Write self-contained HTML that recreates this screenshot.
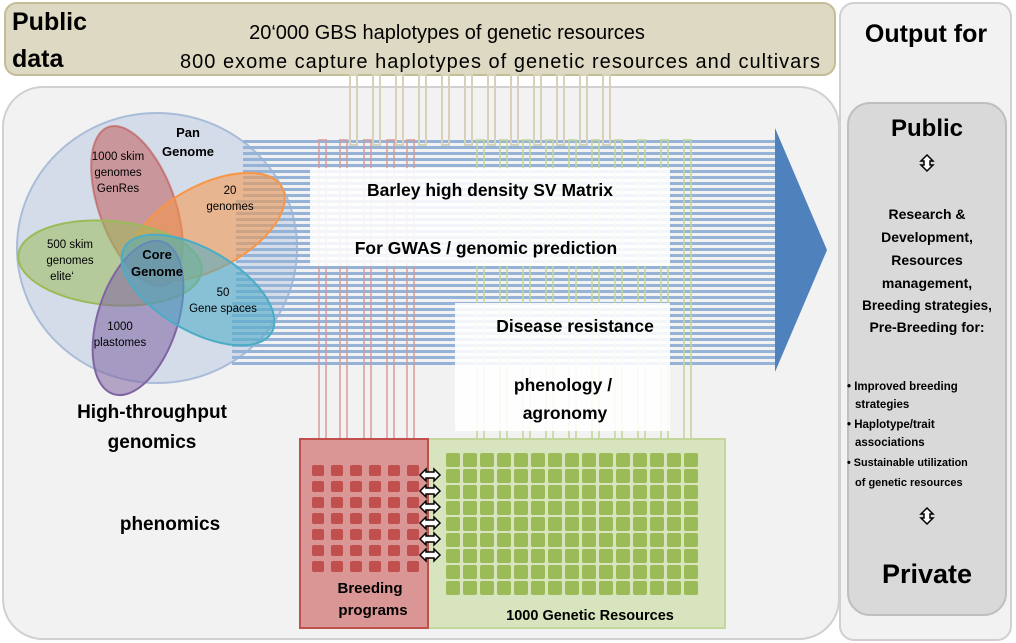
<!DOCTYPE html>
<html><head><meta charset="utf-8"><style>
body{margin:0;background:#fff}
svg{display:block;font-family:"Liberation Sans",sans-serif}
</style></head><body>
<svg id="s" width="1016" height="643" viewBox="0 0 1016 643">
<rect x="0" y="0" width="1016" height="643" fill="#fff"/>
<rect x="3" y="87" width="836" height="552" rx="40" fill="#f2f2f2" stroke="#d0d0d0" stroke-width="2"/>
<rect x="840" y="3" width="171" height="637" rx="14" fill="#f2f2f2" stroke="#d0d0d0" stroke-width="2"/>
<text x="926" y="42" text-anchor="middle" font-size="25" font-weight="bold">Output for</text>
<rect x="848" y="103" width="158" height="512" rx="22" fill="#d9d9d9" stroke="#bfbfbf" stroke-width="2"/>
<text x="927" y="136" text-anchor="middle" font-size="24" font-weight="bold">Public</text>
<text x="927" y="583" text-anchor="middle" font-size="27" font-weight="bold">Private</text>
<g font-size="14" font-weight="bold" text-anchor="middle">
<text x="927" y="219">Research &amp;</text>
<text x="927" y="242">Development,</text>
<text x="927" y="265">Resources</text>
<text x="927" y="288">management,</text>
<text x="927" y="310" font-size="13.5">Breeding strategies,</text>
<text x="927" y="332">Pre-Breeding for:</text>
</g>
<g font-size="11.5" font-weight="bold">
<text x="847" y="390">• Improved breeding</text>
<text x="855" y="408">strategies</text>
<text x="847" y="428">• Haplotype/trait</text>
<text x="855" y="446">associations</text>
<text x="847" y="466" font-size="10.8">• Sustainable utilization</text>
<text x="855" y="486" font-size="11">of genetic resources</text>
</g>
<g fill="#fff" stroke="#000" stroke-width="1.5">
<path d="M927,155 l6,6 h-3 v4 h3 l-6,6 l-6,-6 h3 v-4 h-3 z"/>
<path d="M927,508 l6,6 h-3 v4 h3 l-6,6 l-6,-6 h3 v-4 h-3 z"/>
</g>
<rect x="5" y="3" width="830" height="72" rx="12" fill="#ddd9c3" stroke="#c4bd97" stroke-width="2"/>
<text x="12" y="30" font-size="25" font-weight="bold">Public</text>
<text x="12" y="67" font-size="25" font-weight="bold">data</text>
<text x="447" y="39" text-anchor="middle" font-size="20">20‘000 GBS haplotypes of genetic resources</text>
<text x="500" y="68" text-anchor="middle" font-size="20" textLength="640" lengthAdjust="spacing">800 exome capture haplotypes of genetic resources  and cultivars</text>
<g>
<ellipse cx="157" cy="248" rx="140" ry="135" fill="#d3dce8" stroke="#a9bcd8" stroke-width="2"/>
</g>
<g id="stripes"></g>
<polygon points="775,128 827,250 775,372" fill="#4f81bd"/>
<g id="vlines"></g>
<g>
<ellipse cx="137" cy="206" rx="38" ry="84" transform="rotate(-20 137 206)" fill="#c0504d" fill-opacity="0.5" stroke="#c0504d" stroke-opacity="0.6" stroke-width="2"/>
<ellipse cx="208" cy="227" rx="84" ry="42" transform="rotate(-28 208 227)" fill="#f79646" fill-opacity="0.55" stroke="#f79646" stroke-width="2"/>
<ellipse cx="110" cy="263" rx="92" ry="42" transform="rotate(5 110 263)" fill="#9bbb59" fill-opacity="0.55" stroke="#9bbb59" stroke-width="2"/>
<ellipse cx="138" cy="318" rx="40" ry="80" transform="rotate(18 138 318)" fill="#8064a2" fill-opacity="0.55" stroke="#8064a2" stroke-width="2"/>
<ellipse cx="198" cy="290" rx="85" ry="41" transform="rotate(30 198 290)" fill="#4bacc6" fill-opacity="0.55" stroke="#4bacc6" stroke-width="2"/>
<g font-size="11.5" text-anchor="middle">
<text x="188" y="137" font-size="13" font-weight="bold">Pan</text>
<text x="188" y="156" font-size="13" font-weight="bold">Genome</text>
<text x="118" y="160">1000 skim</text><text x="118" y="176">genomes</text><text x="118" y="192">GenRes</text>
<text x="230" y="194">20</text><text x="230" y="210">genomes</text>
<text x="70" y="248">500 skim</text><text x="70" y="264">genomes</text><text x="62" y="280">elite‘</text>
<text x="157" y="259" font-size="13" font-weight="bold">Core</text>
<text x="157" y="276" font-size="13" font-weight="bold">Genome</text>
<text x="223" y="296">50</text><text x="223" y="312">Gene spaces</text>
<text x="120" y="330">1000</text><text x="120" y="346">plastomes</text>
</g>
</g>
<rect x="310" y="168" width="360" height="98" fill="#fff" fill-opacity="0.88"/>
<rect x="455" y="303" width="215" height="128" fill="#fff" fill-opacity="0.88"/>
<g font-size="17.5" font-weight="bold" text-anchor="middle">
<text x="490" y="196">Barley high density SV Matrix</text>
<text x="486" y="254">For GWAS / genomic prediction</text>
<text x="575" y="332">Disease resistance</text>
<text x="563" y="391">phenology /</text>
<text x="565" y="419">agronomy</text>
</g>
<text x="152" y="418" text-anchor="middle" font-size="19" font-weight="bold">High-throughput</text>
<text x="152" y="448" text-anchor="middle" font-size="19" font-weight="bold">genomics</text>
<text x="170" y="530" text-anchor="middle" font-size="19" font-weight="bold">phenomics</text>
<rect x="428" y="439" width="297" height="189" fill="#d7e4bd" stroke="#c3d69b" stroke-width="2"/>
<rect x="300" y="439" width="128" height="189" fill="#d99694" stroke="#c0504d" stroke-width="2"/>
<g id="sq"></g>
<text x="370" y="593" text-anchor="middle" font-size="15" font-weight="bold">Breeding</text>
<text x="373" y="615" text-anchor="middle" font-size="15" font-weight="bold">programs</text>
<text x="590" y="620" text-anchor="middle" font-size="14.5" font-weight="bold">1000 Genetic Resources</text>
</svg>
<script>
const NS="http://www.w3.org/2000/svg";
function mk(t,a,p){const e=document.createElementNS(NS,t);for(const k in a)e.setAttribute(k,a[k]);p.appendChild(e);return e;}
const st=document.getElementById('stripes');
for(let y=140;y<368;y+=6){const x0=y<200?243:(y<300?236:232);const e=mk('rect',{x:x0,y:y,width:775-x0,height:3,fill:'#95b3d7'},st);

}
const vl=document.getElementById('vlines');
for(let i=0;i<12;i++){const x=353+23*i;const e=mk('rect',{x:x-3,y:75,width:7,height:70,fill:'none',stroke:'#d6d1b8','stroke-width':2},vl);

}
for(let i=0;i<5;i++){const x=[322,343,367,390,410][i];const e=mk('rect',{x:x-3,y:140,width:7,height:299,fill:'none',stroke:'#d99694','stroke-width':2,'stroke-opacity':0.7},vl);

}
for(let i=0;i<10;i++){const x=480+23*i;const e=mk('rect',{x:x-3,y:140,width:7,height:299,fill:'none',stroke:'#c3d69b','stroke-width':2,'stroke-opacity':0.8},vl);

}
const sq=document.getElementById('sq');
for(let r=0;r<7;r++)for(let c=0;c<6;c++){const e=mk('rect',{x:312+19*c,y:465+16*r,width:12,height:11,rx:2,fill:'#c0504d'},sq);

}
for(let r=0;r<9;r++)for(let c=0;c<15;c++){const e=mk('rect',{x:446+17*c,y:453+16*r,width:14,height:14,rx:2,fill:'#9bbb59'},sq);

}
for(let i=0;i<6;i++){const y=475+16*i;const e=mk('path',{d:`M420,${y} l6,-6 v3 h8 v-3 l6,6 l-6,6 v-3 h-8 v3 z`,fill:'#fff',stroke:'#000','stroke-width':1.5},sq);

}
</script>
</body></html>
